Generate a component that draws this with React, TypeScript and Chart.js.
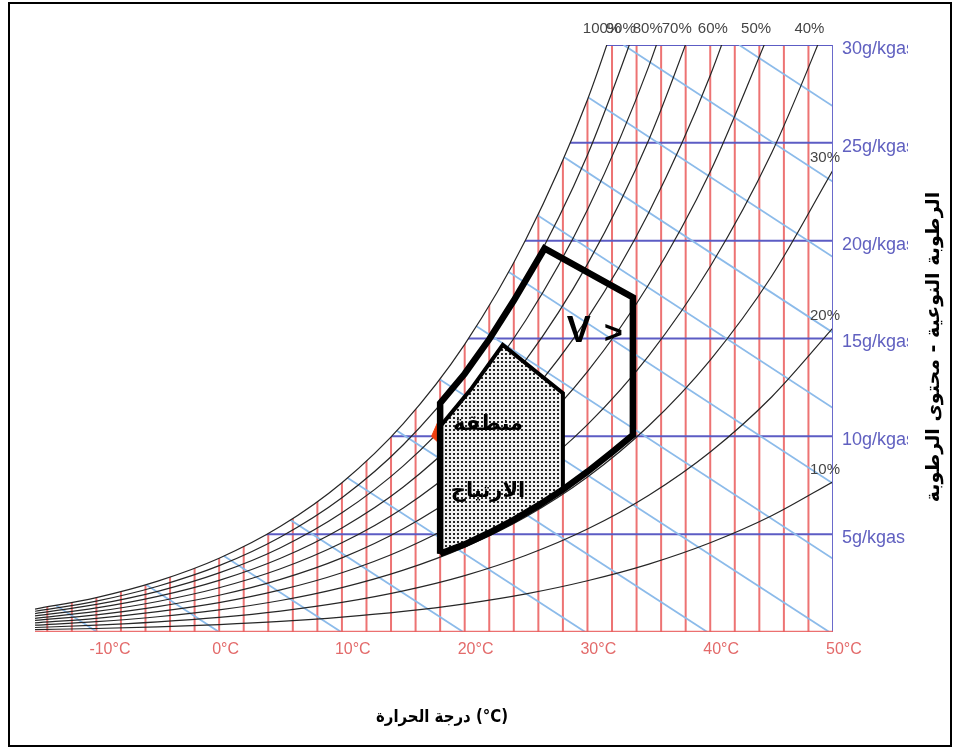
import React, { useEffect, useRef } from "react";
import { Chart, registerables } from "chart.js";

Chart.register(...registerables);

const WIDTH = 958;
const HEIGHT = 749;

// Dry-bulb temperatures (°C) at which the relative-humidity curves are sampled
const temps = [-15, -10, -5, 0, 5, 10, 15, 20, 25, 30, 35, 40, 45, 50];

// Moisture content (g/kg dry air) along each relative-humidity curve
const rh100 = [1.17, 1.76, 2.6, 3.77, 5.4, 7.63, 10.65, 14.7, 20.08, 27.2, 36.58];
const rh90 = [1.06, 1.58, 2.34, 3.39, 4.86, 6.86, 9.57, 13.2, 18.02, 24.38, 32.73];
const rh80 = [0.94, 1.41, 2.08, 3.02, 4.31, 6.09, 8.49, 11.7, 15.96, 21.58, 28.92, 38.51];
const rh70 = [0.82, 1.23, 1.82, 2.64, 3.77, 5.32, 7.41, 10.22, 13.92, 18.8, 25.16, 33.44];
const rh60 = [0.7, 1.05, 1.56, 2.26, 3.23, 4.56, 6.34, 8.74, 11.9, 16.04, 21.44, 28.44, 37.46];
const rh50 = [0.59, 0.88, 1.3, 1.88, 2.69, 3.79, 5.28, 7.26, 9.88, 13.31, 17.77, 23.52, 30.91];
const rh40 = [0.47, 0.7, 1.04, 1.5, 2.15, 3.03, 4.22, 5.8, 7.88, 10.6, 14.13, 18.68, 24.48, 31.88];
const rh30 = [0.35, 0.53, 0.78, 1.13, 1.61, 2.27, 3.16, 4.34, 5.89, 7.92, 10.54, 13.9, 18.18, 23.61];
const rh20 = [0.23, 0.35, 0.52, 0.75, 1.07, 1.51, 2.1, 2.88, 3.92, 5.26, 6.99, 9.2, 12.01, 15.54];
const rh10 = [0.12, 0.18, 0.26, 0.38, 0.54, 0.76, 1.05, 1.44, 1.95, 2.62, 3.47, 4.56, 5.94, 7.68];

const rhLabels = ["100%", "90%", "80%", "70%", "60%", "50%", "40%", "30%", "20%", "10%"];
const rhSeries = [rh100, rh90, rh80, rh70, rh60, rh50, rh40, rh30, rh20, rh10];

// Vertical dry-bulb grid (every 2 °C) and horizontal moisture grid (g/kg)
const dryBulbLines = [-14, -12, -10, -8, -6, -4, -2, 0, 2, 4, 6, 8, 10, 12, 14, 16, 18, 20, 22, 24, 26, 28, 30, 32, 34, 36, 38, 40, 42, 44, 46, 48];
const moistureLines = [5, 10, 15, 20, 25, 30];

// Constant-enthalpy lines: [T start, W start, T end, W end]
const enthalpyLines = [
  [-9.94, 0, -15, 2.06],
  [0, 0, -15, 6.1],
  [9.94, 0, -15, 10.15],
  [19.88, 0, -15, 14.19],
  [29.82, 0, -15, 18.23],
  [39.76, 0, -15, 22.28],
  [49.7, 0, -15, 26.32],
  [50, 3.74, -14.16, 30],
  [50, 7.59, -4.74, 30],
  [50, 11.45, 4.68, 30],
  [50, 15.3, 14.1, 30],
  [50, 19.16, 23.52, 30],
  [50, 23.01, 32.94, 30],
  [50, 26.87, 42.36, 30],
];

const xTickValues = [-10, 0, 10, 20, 30, 40, 50];
const yTickValues = [5, 10, 15, 20, 25, 30];

// Extended comfort envelope (outer outline) and comfort zone (dotted)
const outerZoneT = [18, 18, 20, 22, 24, 26.5, 33.7, 33.7, 32, 30, 28, 26, 24, 22, 20, 18];
const outerZoneW = [4.0, 11.7, 13.2, 14.96, 16.94, 19.6, 17.1, 10.07, 9.19, 8.19, 7.28, 6.47, 5.73, 5.07, 4.48, 4.0];
const innerZoneT = [18, 18, 20.5, 23.1, 28, 28, 26, 24, 22, 20, 18];
const innerZoneW = [4.0, 10.5, 12.4, 14.67, 12.21, 7.28, 6.47, 5.73, 5.07, 4.48, 4.0];
const markerT = [18, 17.3, 18, 18];
const markerW = [11.0, 10.0, 9.6, 11.0];

const LATIN = "'Liberation Sans', Arial, sans-serif";
const ARABIC = "'DejaVu Sans', 'Liberation Sans', sans-serif";

function pts(xs: number[], ys: number[]) {
  return ys.map((y, i) => ({ x: xs[i], y }));
}

function makeDots(): CanvasPattern | string {
  const c = document.createElement("canvas");
  c.width = 4;
  c.height = 4;
  const g = c.getContext("2d");
  if (!g) return "#aaaaaa";
  g.fillStyle = "#f2f2f2";
  g.fillRect(0, 0, 4, 4);
  g.fillStyle = "#262626";
  g.fillRect(1, 1, 2, 2);
  const p = g.createPattern(c, "repeat");
  return p || "#aaaaaa";
}

const overlay = {
  id: "psychroOverlay",
  afterDraw(chart: any) {
    const { ctx, chartArea, scales } = chart;
    const xs = scales.x;
    const ys = scales.y;
    ctx.save();

    // Temperature tick labels
    ctx.fillStyle = "#e36a6a";
    ctx.font = `16px ${LATIN}`;
    ctx.textAlign = "left";
    ctx.textBaseline = "middle";
    xTickValues.forEach((t) => {
      ctx.fillText(`${t}°C`, xs.getPixelForValue(t) - 7, chartArea.bottom + 18);
    });

    // Moisture tick labels, clipped at the right
    ctx.save();
    ctx.beginPath();
    ctx.rect(chartArea.right, 0, 908 - chartArea.right, HEIGHT);
    ctx.clip();
    ctx.fillStyle = "#6060c0";
    ctx.font = `18px ${LATIN}`;
    yTickValues.forEach((w) => {
      ctx.fillText(`${w}g/kgas`, chartArea.right + 9, ys.getPixelForValue(w) + 4);
    });
    ctx.restore();

    // Relative-humidity labels: above the top edge or inside the right edge
    ctx.fillStyle = "#454545";
    ctx.font = `15px ${LATIN}`;
    ctx.textBaseline = "alphabetic";
    rhSeries.forEach((vals, i) => {
      const last = vals[vals.length - 1];
      if (last > 30) {
        let cross = temps[vals.length - 1];
        for (let j = 1; j < vals.length; j++) {
          if (vals[j] >= 30) {
            cross = temps[j - 1] + ((30 - vals[j - 1]) / (vals[j] - vals[j - 1])) * (temps[j] - temps[j - 1]);
            break;
          }
        }
        ctx.fillText(rhLabels[i], xs.getPixelForValue(cross) - 23, chartArea.top - 12);
      } else {
        ctx.fillText(rhLabels[i], chartArea.right - 23, ys.getPixelForValue(last) - 8);
      }
    });

    // Zone annotations
    ctx.fillStyle = "#000";
    ctx.textAlign = "center";
    ctx.textBaseline = "middle";
    ctx.direction = "rtl";
    ctx.font = `bold 21px ${ARABIC}`;
    ctx.fillText("منطقة", xs.getPixelForValue(21.9), ys.getPixelForValue(10.6));
    ctx.fillText("الارتياح", xs.getPixelForValue(21.9), ys.getPixelForValue(7.2));
    ctx.direction = "ltr";
    ctx.textBaseline = "alphabetic";
    ctx.font = `bold 36px ${LATIN}`;
    ctx.fillText("V", xs.getPixelForValue(29.3), ys.getPixelForValue(14.8));
    ctx.font = `bold 32px ${LATIN}`;
    ctx.fillText(">", xs.getPixelForValue(32.1), ys.getPixelForValue(14.75));

    // Axis titles
    ctx.direction = "ltr";
    ctx.font = `bold 17px ${ARABIC}`;
    ctx.textBaseline = "middle";
    ctx.fillText("درجة الحرارة (°C)", 442, 718, 132);
    ctx.save();
    ctx.translate(934, 347);
    ctx.rotate(-Math.PI / 2);
    ctx.direction = "rtl";
    ctx.font = `bold 19px ${ARABIC}`;
    ctx.fillText("الرطوبة النوعية - محتوى الرطوبة", 0, 0, 340);
    ctx.restore();

    // Outer frame
    ctx.direction = "ltr";
    ctx.strokeStyle = "#000";
    ctx.lineWidth = 2;
    ctx.strokeRect(9, 3, 942, 743);
    ctx.restore();
  },
};

export default function App() {
  const canvasRef = useRef<HTMLCanvasElement | null>(null);

  useEffect(() => {
    const canvas = canvasRef.current;
    if (!canvas) return;
    const base = { pointRadius: 0, pointHoverRadius: 0, fill: false, tension: 0 };
    const datasets: any[] = [];

    dryBulbLines.forEach((t) =>
      datasets.push({ ...base, data: [{ x: t, y: 0 }, { x: t, y: 30 }], borderColor: "rgba(234,90,90,0.85)", borderWidth: 2, order: 60 })
    );
    moistureLines.forEach((w) =>
      datasets.push({ ...base, data: [{ x: -15, y: w }, { x: 50, y: w }], borderColor: "#5c5cc4", borderWidth: 2, order: 55 })
    );
    enthalpyLines.forEach(([t1, w1, t2, w2]) =>
      datasets.push({ ...base, data: [{ x: t1, y: w1 }, { x: t2, y: w2 }], borderColor: "#8cbbea", borderWidth: 1.8, order: 50 })
    );
    rhSeries.forEach((vals, i) =>
      datasets.push({
        ...base,
        data: pts(temps, vals),
        borderColor: "#262626",
        borderWidth: 1.2,
        cubicInterpolationMode: "monotone",
        fill: i === 0 ? "end" : false,
        backgroundColor: "#ffffff",
        order: i === 0 ? 40 : 35,
      })
    );
    datasets.push({ ...base, data: [{ x: -15, y: 0 }, { x: 50, y: 0 }], borderColor: "rgba(234,96,96,0.9)", borderWidth: 2.5, order: 30 });
    datasets.push({ ...base, data: [{ x: 50, y: 0 }, { x: 50, y: 30 }], borderColor: "#6a6acb", borderWidth: 2, order: 30 });
    datasets.push({ ...base, data: pts(markerT, markerW), borderColor: "#f04010", backgroundColor: "#f04010", borderWidth: 1, fill: "shape", order: 25 });
    datasets.push({
      ...base,
      data: pts(innerZoneT, innerZoneW),
      borderColor: "#000",
      borderWidth: 4,
      borderJoinStyle: "miter",
      fill: "shape",
      backgroundColor: makeDots(),
      order: 20,
    });
    datasets.push({
      ...base,
      data: pts(outerZoneT, outerZoneW),
      borderColor: "#000",
      borderWidth: 6.5,
      borderJoinStyle: "miter",
      order: 10,
    });

    const chart = new Chart(canvas, {
      type: "line",
      data: { datasets },
      options: {
        responsive: false,
        animation: false,
        devicePixelRatio: 1,
        layout: { padding: { left: 35, top: 45, right: WIDTH - 833, bottom: HEIGHT - 632 } },
        scales: {
          x: { type: "linear", min: -15, max: 50, display: false },
          y: { type: "linear", min: 0, max: 30, display: false },
        },
        plugins: { legend: { display: false }, tooltip: { enabled: false } },
        events: [],
      },
      plugins: [overlay],
    } as any);
    return () => chart.destroy();
  }, []);

  return (
    <div style={{ position: "fixed", left: 0, top: 0, width: WIDTH, height: HEIGHT, background: "#fff" }}>
      <canvas ref={canvasRef} width={WIDTH} height={HEIGHT} style={{ display: "block" }} />
    </div>
  );
}
